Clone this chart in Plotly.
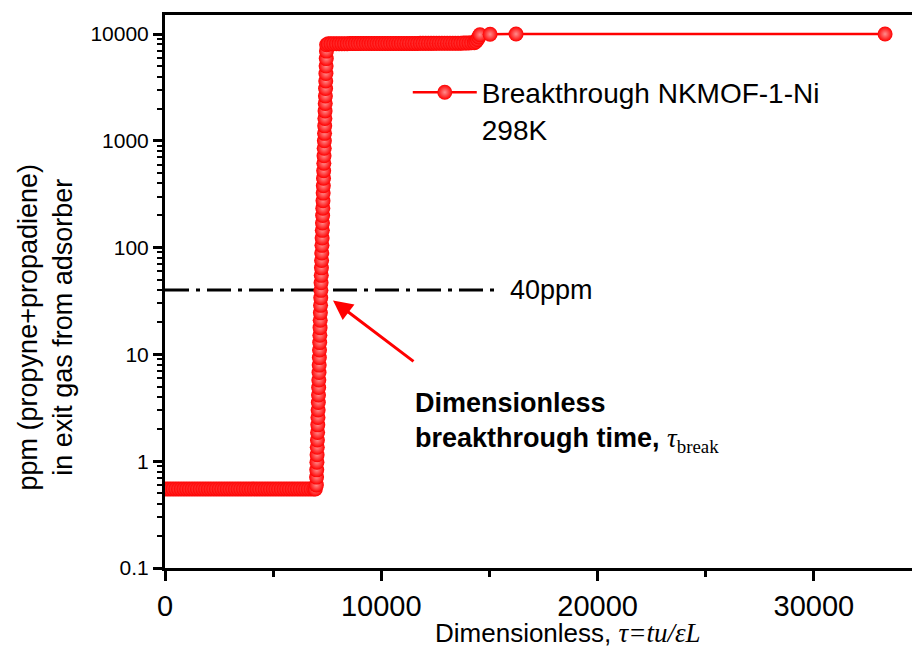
import plotly.graph_objects as go

# ---- data ----
tau_flat = [0, 125, 250, 375, 500, 625, 750, 875, 1000, 1125, 1250, 1375, 1500, 1625, 1750,
            1875, 2000, 2125, 2250, 2375, 2500, 2625, 2750, 2875, 3000, 3125, 3250, 3375,
            3500, 3625, 3750, 3875, 4000, 4125, 4250, 4375, 4500, 4625, 4750, 4875, 5000,
            5125, 5250, 5375, 5500, 5625, 5750, 5875, 6000, 6125, 6250, 6375, 6500, 6625,
            6750, 6875, 6950]
ppm_flat = [0.55] * len(tau_flat)

tau_rise = [7000, 7008, 7016, 7024, 7032, 7040, 7048, 7056, 7064, 7072, 7080, 7088, 7096,
            7104, 7112, 7120, 7128, 7136, 7144, 7152, 7160, 7168, 7176, 7184, 7192, 7200,
            7208, 7216, 7224, 7232, 7240, 7248, 7256, 7264, 7272, 7280, 7288, 7296, 7304,
            7312, 7320, 7328, 7336, 7344, 7352, 7360, 7368, 7376, 7384, 7392, 7400, 7408,
            7416, 7424, 7432, 7440, 7448, 7456, 7464, 7472]
ppm_rise = [0.60, 0.71, 0.83, 0.98, 1.15, 1.35, 1.58, 1.86, 2.19, 2.57, 3.02, 3.55, 4.17,
            4.90, 5.75, 6.76, 7.94, 9.33, 11.0, 12.9, 15.1, 17.8, 20.9, 24.5, 28.8, 33.9,
            39.8, 46.8, 55.0, 64.6, 75.9, 89.1, 105, 123, 145, 170, 200, 234, 275, 324,
            380, 447, 525, 617, 724, 851, 1000, 1175, 1380, 1622, 1905, 2239, 2630, 3090,
            3631, 4266, 5012, 5888, 6918, 7943]

tau_plateau = [7550, 7675, 7800, 7925, 8050, 8175, 8300, 8425, 8550, 8675, 8800, 8925, 9050,
               9175, 9300, 9425, 9550, 9675, 9800, 9925, 10050, 10175, 10300, 10425, 10550,
               10675, 10800, 10925, 11050, 11175, 11300, 11425, 11550, 11675, 11800, 11925,
               12050, 12175, 12300, 12425, 12550, 12675, 12800, 12925, 13050, 13175, 13300,
               13425, 13550, 13675, 13800, 13925, 14050, 14175, 14300]
ppm_plateau = [8100, 8100, 8110, 8110, 8120, 8120, 8120, 8120, 8130, 8130, 8130, 8130, 8140,
               8140, 8140, 8140, 8150, 8150, 8150, 8150, 8150, 8150, 8160, 8160, 8160,
               8160, 8160, 8160, 8170, 8170, 8170, 8170, 8170, 8170, 8180, 8180,
               8180, 8180, 8180, 8180, 8190, 8190, 8190, 8190, 8200, 8200, 8200,
               8200, 8210, 8210, 8220, 8230, 8250, 8270, 8300]

tau_tail = [14380, 14450, 14510, 14560, 15030, 16230, 33290]
ppm_tail = [8500, 8900, 9400, 9850, 9950, 10000, 10000]

tau = tau_flat + tau_rise + tau_plateau + tau_tail
ppm = ppm_flat + ppm_rise + ppm_plateau + ppm_tail

threshold_tau = [0, 15490]
threshold_ppm = [40, 40]

x_tickvals = [0, 10000, 20000, 30000]
x_minor = [5000, 15000, 25000]
y_tickvals = [0.1, 1, 10, 100, 1000, 10000]
y_ticktext = ["0.1", "1", "10", "100", "1000", "10000"]

RED = "#ff0000"
FONT = "Arial, 'Liberation Sans', sans-serif"

fig = go.Figure()

fig.add_trace(go.Scatter(
    x=threshold_tau, y=threshold_ppm, mode="lines",
    line=dict(color="black", width=3, dash="24px,7px,4px,7px"),
    showlegend=False, hoverinfo="skip"))

fig.add_trace(go.Scatter(
    x=tau, y=ppm, mode="lines+markers",
    name="Breakthrough NKMOF-1-Ni<br>298K",
    line=dict(color=RED, width=2.5),
    marker=dict(size=15, color=RED, line=dict(width=0),
                gradient=dict(type="radial", color="#ff8c8c"))))

fig.update_layout(
    width=912, height=650,
    margin=dict(l=165, r=0, t=15, b=82),
    paper_bgcolor="white", plot_bgcolor="white",
    font=dict(family=FONT, color="black"),
    showlegend=True,
    legend=dict(x=0.325, y=0.905, xanchor="left", yanchor="top",
                bgcolor="rgba(0,0,0,0)", font=dict(size=28, family=FONT),
                itemwidth=64, valign="top", tracegroupgap=0),
)

fig.update_xaxes(
    range=[0, 34535], showgrid=False, zeroline=False,
    showline=True, linecolor="black", linewidth=3, mirror=True,
    ticks="outside", ticklen=10, tickwidth=3, tickcolor="black",
    tickvals=x_tickvals, ticktext=[str(v) for v in x_tickvals],
    tickfont=dict(size=29, family=FONT),
    minor=dict(tickvals=x_minor, ticks="outside", ticklen=6, tickwidth=3, tickcolor="black"),
)

y_minor = [m * d for d in [0.1, 1, 10, 100, 1000] for m in range(2, 10)]
fig.update_yaxes(
    type="log", range=[-1, 4.178], showgrid=False, zeroline=False,
    showline=True, linecolor="black", linewidth=3,
    ticks="outside", ticklen=9, tickwidth=3, tickcolor="black",
    tickvals=y_tickvals, ticktext=y_ticktext,
    tickfont=dict(size=21, family=FONT),
    minor=dict(tickvals=y_minor, ticks="outside", ticklen=5, tickwidth=2, tickcolor="black"),
)

# y-axis title
fig.add_annotation(
    xref="paper", yref="paper", x=0, y=0.435, xshift=-120,
    text="ppm (propyne+propadiene)<br>in exit gas from adsorber",
    textangle=-90, showarrow=False, font=dict(size=27, family=FONT),
    xanchor="center", yanchor="middle")

# x-axis title
fig.add_annotation(
    xref="x", yref="paper", x=18630, y=0, yshift=-65,
    text="Dimensionless, <span style=\"font-family:'Times New Roman','Liberation Serif',serif;font-size:27px\"><i>τ=tu/εL</i></span>",
    showarrow=False, font=dict(size=26, family=FONT),
    xanchor="center", yanchor="middle")

# 40ppm label
fig.add_annotation(
    xref="x", yref="y", x=15850, y=1.602, text="40ppm", showarrow=False,
    font=dict(size=27, family=FONT), xanchor="left", yanchor="middle")

# arrow
fig.add_annotation(
    xref="x", yref="y", x=7767, y=1.505, ax=82, ay=62, text="",
    showarrow=True, arrowhead=2, arrowsize=1.3, arrowwidth=3, arrowcolor=RED, standoff=0)

# breakthrough label
fig.add_annotation(
    xref="x", yref="y", x=11466, y=0.36,
    text="<b>Dimensionless<br>breakthrough time, </b><span style=\"font-family:'Times New Roman','Liberation Serif',serif\"><i>τ</i><sub>break</sub></span>",
    showarrow=False, align="left", font=dict(size=27, family=FONT),
    xanchor="left", yanchor="middle")

fig.write_html("out.html")
